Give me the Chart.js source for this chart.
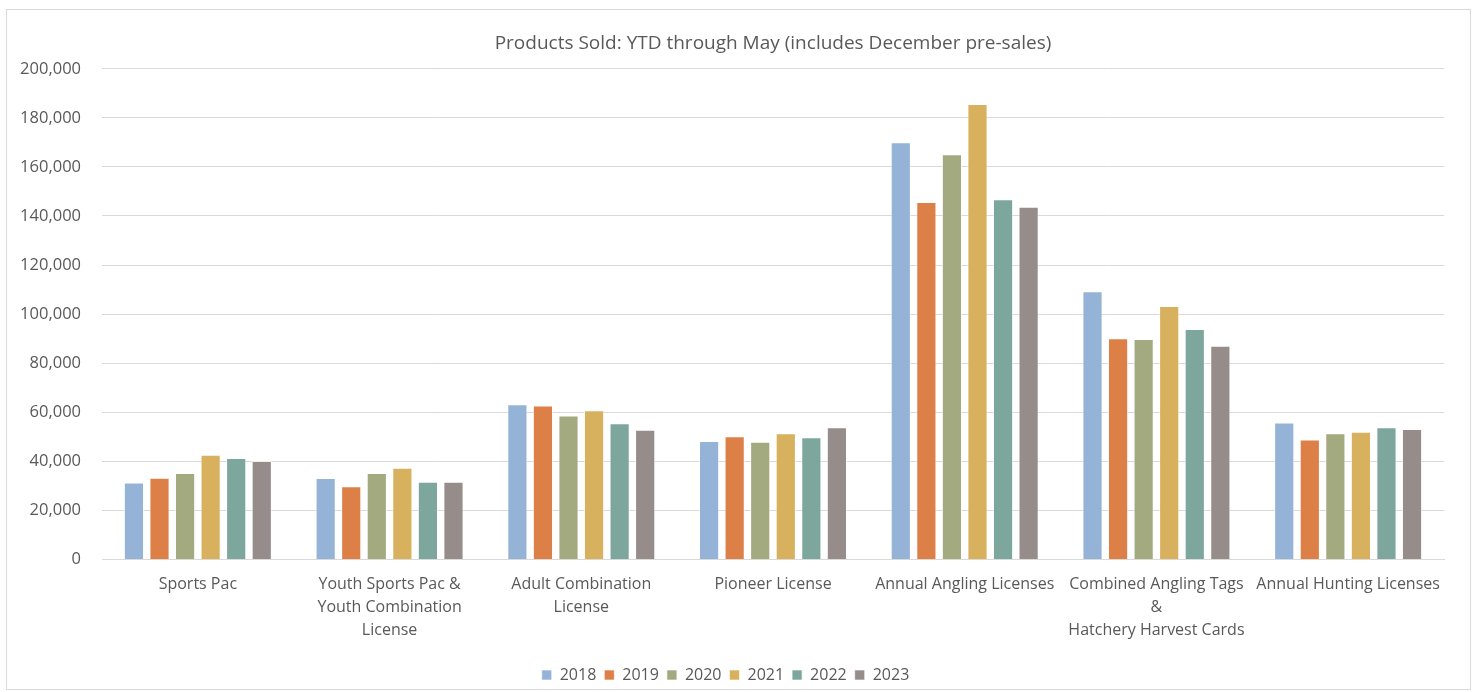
<!DOCTYPE html>
<html>
<head>
<meta charset="utf-8">
<script src="https://cdn.jsdelivr.net/npm/chart.js@4/dist/chart.umd.min.js"></script>
<style>
  body { margin: 0; background: #fff; }
  #box { position: absolute; left: 6px; top: 9px; width: 1463px; height: 679px; border: 1px solid #d9d9d9; }
</style>
</head>
<body>
<div id="box"><canvas id="chart"></canvas></div>
<script>
const categories = [
  'Sports Pac',
  ['Youth Sports Pac &', 'Youth Combination', 'License'],
  ['Adult Combination', 'License'],
  'Pioneer License',
  'Annual Angling Licenses',
  ['Combined Angling Tags', '&', 'Hatchery Harvest Cards'],
  'Annual Hunting Licenses'
];
const years = ['2018', '2019', '2020', '2021', '2022', '2023'];
const colors = ['#95b3d7', '#dd8048', '#a4aa7f', '#d8b15e', '#7da79c', '#968c8a'];

const sales2018 = [31400, 33200, 63300, 48300, 170100, 109300, 55800];
const sales2019 = [33300, 29800, 62700, 50200, 145700, 90200, 48900];
const sales2020 = [35200, 35200, 58700, 48000, 165200, 89800, 51400];
const sales2021 = [42700, 37400, 60800, 51400, 185700, 103300, 52000];
const sales2022 = [41300, 31700, 55500, 49800, 146800, 93900, 53900];
const sales2023 = [40100, 31700, 52900, 53900, 143800, 87100, 53200];
const series = [sales2018, sales2019, sales2020, sales2021, sales2022, sales2023];

const yMax = 200000;
const yStep = 20000;

const font = "'Open Sans', 'Noto Sans', sans-serif";
const textColor = '#595959';

new Chart(document.getElementById('chart'), {
  type: 'bar',
  data: {
    labels: categories,
    datasets: years.map((y, i) => ({
      label: y,
      data: series[i],
      backgroundColor: colors[i],
      borderColor: 'rgba(255,255,255,0.6)',
      borderWidth: 1,
      barPercentage: 0.79,
      categoryPercentage: 0.8
    }))
  },
  options: {
    responsive: true,
    maintainAspectRatio: false,
    animation: false,
    layout: { padding: { left: 0, right: 26, top: 18, bottom: -4 } },
    plugins: {
      title: {
        display: true,
        fullSize: false,
        text: 'Products Sold: YTD through May (includes December pre-sales)',
        color: textColor,
        font: { family: font, size: 19, weight: 'normal' },
        padding: { top: 4, bottom: 14 }
      },
      legend: {
        position: 'bottom',
        labels: {
          color: textColor,
          font: { family: font, size: 16 },
          boxWidth: 10,
          boxHeight: 10,
          padding: 8
        }
      },
      tooltip: { enabled: false }
    },
    scales: {
      x: {
        grid: { display: false },
        border: { color: '#d9d9d9' },
        afterFit: s => { s.height += 12; },
        ticks: {
          color: textColor,
          font: { family: font, size: 16, lineHeight: 1.45 },
          maxRotation: 0,
          autoSkip: false,
          padding: 5
        }
      },
      y: {
        min: 0,
        max: yMax,
        grid: { color: '#d9d9d9', drawTicks: false },
        border: { display: false },
        afterFit: s => { s.width = 95; },
        ticks: {
          stepSize: yStep,
          color: textColor,
          font: { family: font, size: 16.5 },
          padding: 21,
          callback: v => v.toLocaleString('en-US')
        }
      }
    }
  }
});
</script>
</body>
</html>
